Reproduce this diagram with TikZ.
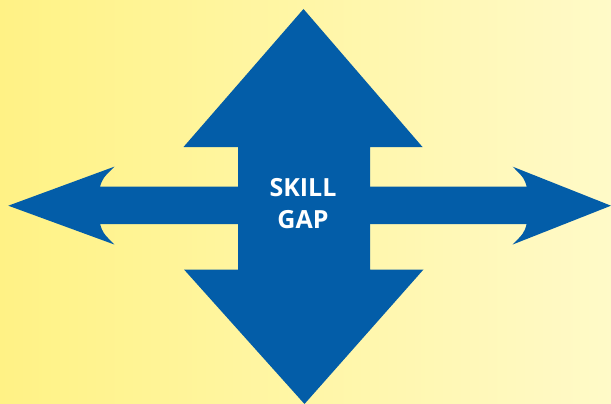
\documentclass[tikz,border=0pt]{standalone}
\usepackage{fontspec}
\setmainfont{Open Sans}
\definecolor{arrowblue}{HTML}{035DA8}
\definecolor{bgleft}{HTML}{FFF285}
\definecolor{bgright}{HTML}{FFFAC8}
\begin{document}
\begin{tikzpicture}[x=1pt,y=-1pt,
  shapefill/.style={fill=arrowblue,draw=none},
  labeltext/.style={text=white,font=\fontsize{25}{32}\selectfont\bfseries,align=center,inner sep=0pt}]
\useasboundingbox (0,0) rectangle (611,404);
\shade[left color=bgleft,right color=bgright] (0,0) rectangle (611,404);
% vertical double arrow
\fill[shapefill] (303.5,9) -- (422.5,147) -- (370,147) -- (370,269.5) -- (423.5,269.5)
  -- (304.5,404) -- (184,269.5) -- (238,269.5) -- (238,147) -- (183.5,147) -- cycle;
% horizontal double arrow
\fill[shapefill] (8.3,205.7) -- (114.3,166.7) .. controls (103,178) .. (100,186.5)
  -- (526.7,186.5) .. controls (524,178) .. (512.7,166.7) -- (611,205.7)
  -- (512.7,244.5) .. controls (524,233) .. (526.7,224) -- (100,224)
  .. controls (103,233) .. (114.3,244.5) -- cycle;
\node[labeltext] (gap) at (303,204) {SKILL\\GAP};
\end{tikzpicture}
\end{document}
